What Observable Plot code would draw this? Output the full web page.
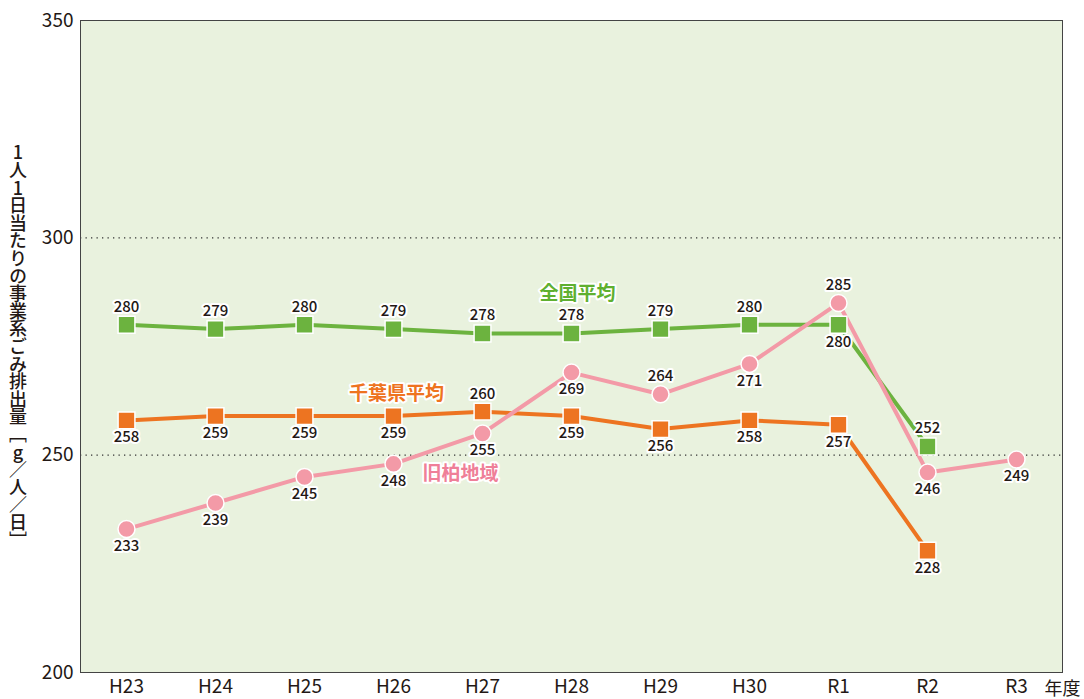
<!DOCTYPE html>
<html>
<head>
<meta charset="utf-8">
<script src="https://cdn.jsdelivr.net/npm/d3@7"></script>
<script src="https://cdn.jsdelivr.net/npm/@observablehq/plot@0.6"></script>
<style>
  html, body { margin: 0; padding: 0; background: #ffffff; }
  #chart { width: 1084px; height: 699px; }
</style>
</head>
<body>
<div id="chart"></div>
<script>
// ---- data ----
const years = ["H23", "H24", "H25", "H26", "H27", "H28", "H29", "H30", "R1", "R2", "R3"];
const zenkoku = [280, 279, 280, 279, 278, 278, 279, 280, 280, 252, null];   // 全国平均
const chiba   = [258, 259, 259, 259, 260, 259, 256, 258, 257, 228, null];   // 千葉県平均
const kashiwa = [233, 239, 245, 248, 255, 269, 264, 271, 285, 246, 249];    // 旧柏地域
const seriesNames = ["全国平均", "千葉県平均", "旧柏地域"];
const yTicks = [200, 250, 300, 350];
const yTitle = "1人1日当たりの事業系ごみ排出量［g／人／日］";
const xUnit = "年度";

// ---- build table ----
const colors = {"全国平均": "#6cb33f", "千葉県平均": "#ed7421", "旧柏地域": "#f39aa7"};
const labelColors = {"全国平均": "#5fb030", "千葉県平均": "#ee7320", "旧柏地域": "#ef7f98"};
const rows = [];
[zenkoku, chiba, kashiwa].forEach((arr, si) => {
  arr.forEach((v, i) => {
    if (v != null) rows.push({series: seriesNames[si], year: years[i], value: v});
  });
});
// label placement: green above, orange/pink below, with exceptions
function above(d) {
  if (d.series === "全国平均") return !(d.year === "R1");
  if (d.series === "千葉県平均") return d.year === "H27";
  return d.year === "R1" || d.year === "H29";
}
const rowsAbove = rows.filter(above);
const rowsBelow = rows.filter(d => !above(d));

// series name labels, anchored in data space
const nameLabels = [
  {series: "全国平均", year: "H28", value: 287.2, dx: 6},
  {series: "千葉県平均", year: "H26", value: 264.0, dx: 3},
  {series: "旧柏地域", year: "H27", value: 245.8, dx: -22}
];

const font = "'Noto Sans CJK JP', 'Noto Sans', sans-serif";
const lineData = s => rows.filter(d => d.series === s);

const plot = Plot.plot({
  width: 1084,
  height: 699,
  marginLeft: 80,
  marginRight: 22,
  marginTop: 20,
  marginBottom: 27,
  style: {fontFamily: font, background: "#ffffff", color: "#231815"},
  x: {type: "point", domain: years, padding: 0.5, label: null, tickSize: 0, tickPadding: 7},
  y: {domain: [200, 350], ticks: yTicks, label: null, tickSize: 0, tickPadding: 7},
  marks: [
    Plot.frame({fill: "#e9f2de", stroke: "none"}),
    Plot.ruleY([250, 300], {stroke: "#333", strokeWidth: 1.3, strokeDasharray: "1.3,4.2"}),
    Plot.frame({stroke: "#444", strokeWidth: 1}),
    Plot.axisY({ticks: yTicks, tickSize: 0, tickPadding: 7, fontSize: 19, label: null}),
    Plot.axisX({tickSize: 0, tickPadding: 7, fontSize: 19, label: null}),
    ...seriesNames.map(s => Plot.line(lineData(s), {x: "year", y: "value", stroke: colors[s], strokeWidth: 4})),
    Plot.dot(rows.filter(d => d.series !== "旧柏地域"), {x: "year", y: "value", symbol: "square", r: 9.5, fill: d => colors[d.series], stroke: "white", strokeWidth: 1.5}),
    Plot.dot(rows.filter(d => d.series === "旧柏地域"), {x: "year", y: "value", symbol: "circle", r: 8.5, fill: d => colors[d.series], stroke: "white", strokeWidth: 1.5}),
    Plot.text(rowsAbove, {x: "year", y: "value", text: d => String(d.value), dy: -18, fontSize: 15, fontWeight: 500, fill: "#231815", stroke: "white", strokeWidth: 4}),
    Plot.text(rowsBelow, {x: "year", y: "value", text: d => String(d.value), dy: 17, fontSize: 15, fontWeight: 500, fill: "#231815", stroke: "white", strokeWidth: 4}),
    ...nameLabels.map(n => Plot.text([n], {x: "year", y: "value", text: "series", dx: n.dx, fontSize: 19, fontWeight: "bold", fill: labelColors[n.series], stroke: "white", strokeWidth: 4})),
    Plot.text([xUnit], {frameAnchor: "bottom-right", text: d => d, dx: 18, dy: 22, fontSize: 18, textAnchor: "end", fill: "#231815"})
  ]
});

document.getElementById("chart").appendChild(plot);

// vertical y-axis title (Japanese vertical writing)
const svg = d3.select(plot);
svg.append("text")
  .attr("x", 18)
  .attr("y", 346)
  .attr("text-anchor", "middle")
  .attr("fill", "#231815")
  .attr("font-size", 18)
  .attr("font-weight", 500)
  .attr("font-family", font)
  .style("writing-mode", "vertical-rl")
  .style("text-orientation", "upright")
  .style("letter-spacing", "-0.4px")
  .text(yTitle);
</script>
</body>
</html>
